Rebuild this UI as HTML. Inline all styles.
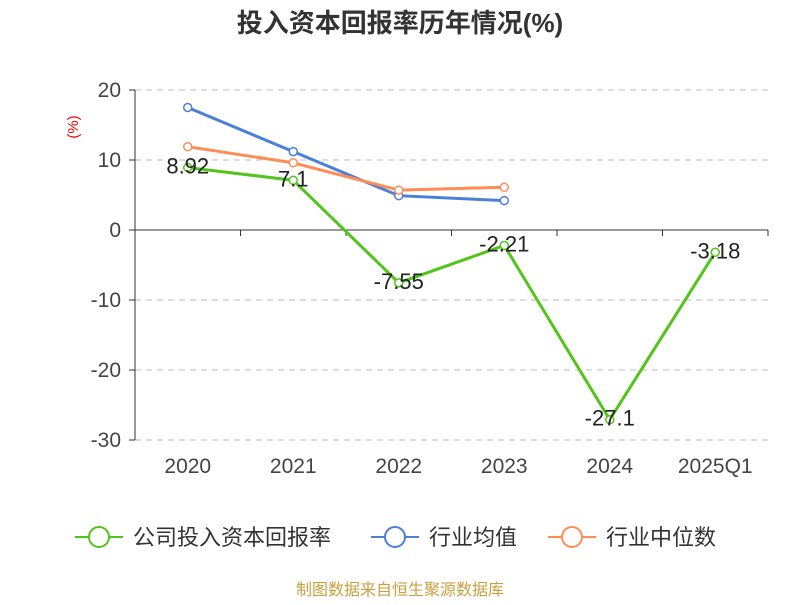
<!DOCTYPE html>
<html><head><meta charset="utf-8"><style>
body{margin:0;background:#fff;}
svg text{font-family:"Liberation Sans","Noto Sans CJK SC",sans-serif;}
</style></head><body>
<svg id="chart" width="800" height="600" xmlns="http://www.w3.org/2000/svg">
<text x="400" y="32" text-anchor="middle" font-size="26" font-weight="bold" fill="#333">投入资本回报率历年情况(%)</text>
<text x="78" y="127" font-size="15" fill="#e00" text-anchor="middle" transform="rotate(-90 78 127)">(%)</text>
<g id="grid"></g><g id="series"></g>
<g>
<g><line x1="75" y1="537" x2="123" y2="537" stroke="#52c41a" stroke-width="2"/><circle cx="99" cy="537" r="10" fill="#fff" stroke="#52c41a" stroke-width="2"/><text x="133" y="545" font-size="22" fill="#333">公司投入资本回报率</text></g>
<g><line x1="371" y1="537" x2="419" y2="537" stroke="#4a7fdc" stroke-width="2"/><circle cx="395" cy="537" r="10" fill="#fff" stroke="#4a7fdc" stroke-width="2"/><text x="429" y="545" font-size="22" fill="#333">行业均值</text></g>
<g><line x1="548" y1="537" x2="596" y2="537" stroke="#ff8c55" stroke-width="2"/><circle cx="572" cy="537" r="10" fill="#fff" stroke="#ff8c55" stroke-width="2"/><text x="606" y="545" font-size="22" fill="#333">行业中位数</text></g>
</g>
<text x="400" y="595" text-anchor="middle" font-size="16" fill="#c8a040">制图数据来自恒生聚源数据库</text>
</svg>
<script>
const categories=["2020","2021","2022","2023","2024","2025Q1"];
const companyValues=[8.92,7.1,-7.55,-2.21,-27.1,-3.18];
const companyLabels=["8.92","7.1","-7.55","-2.21","-27.1","-3.18"];
const industryAvg=[17.5,11.2,4.9,4.2];
const industryMedian=[11.9,9.6,5.7,6.1];
const yTicks=[20,10,0,-10,-20,-30];
const NS="http://www.w3.org/2000/svg";
const x0=135,x1=768,band=(x1-x0)/categories.length;
const xs=i=>x0+band*(i+0.5);
const ys=v=>230-v*7;
function mk(t,a,p){const e=document.createElementNS(NS,t);for(const k in a)e.setAttribute(k,a[k]);p.appendChild(e);return e;}
const g=document.getElementById('grid'),s=document.getElementById('series');
yTicks.forEach(v=>{
 if(v!==0){const l=mk('line',{x1:x0,x2:x1,y1:ys(v),y2:ys(v),stroke:'#bbb','stroke-dasharray':'6,5'},g);
 
 }
 const t=mk('text',{x:x0-14,y:ys(v)+7,'text-anchor':'end','font-size':21,fill:'#444'},g);t.textContent=v;
 
 
 mk('line',{x1:x0-6,x2:x0,y1:ys(v),y2:ys(v),stroke:'#333'},g);
});
const ya=mk('line',{x1:x0,x2:x0,y1:ys(20),y2:ys(-30),stroke:'#333'},g);


const xa=mk('line',{x1:x0,x2:x1,y1:ys(0),y2:ys(0),stroke:'#333'},g);


for(let i=0;i<=categories.length;i++)mk('line',{x1:x0+band*i,x2:x0+band*i,y1:ys(0),y2:ys(0)+6,stroke:'#333'},g);
categories.forEach((c,i)=>{const t=mk('text',{x:xs(i),y:473,'text-anchor':'middle','font-size':21,fill:'#444'},g);t.textContent=c;
 
 });
function line(vals,color,name){
 const p=mk('polyline',{points:vals.map((v,i)=>xs(i)+','+ys(v)).join(' '),fill:'none',stroke:color,'stroke-width':3},s);
 
 
 vals.forEach((v,i)=>{const c=mk('circle',{cx:xs(i),cy:ys(v),r:4,fill:'#fff',stroke:color,'stroke-width':1.5},s);
 
 });
}
line(industryAvg,'#4a7fdc','industry-avg');
line(industryMedian,'#ff8c55','industry-median');
line(companyValues,'#52c41a','company');
companyValues.forEach((v,i)=>{const t=mk('text',{x:xs(i),y:ys(v)+6,'text-anchor':'middle','font-size':22,fill:'#222'},s);t.textContent=companyLabels[i];
 
 });
</script>
</body></html>
